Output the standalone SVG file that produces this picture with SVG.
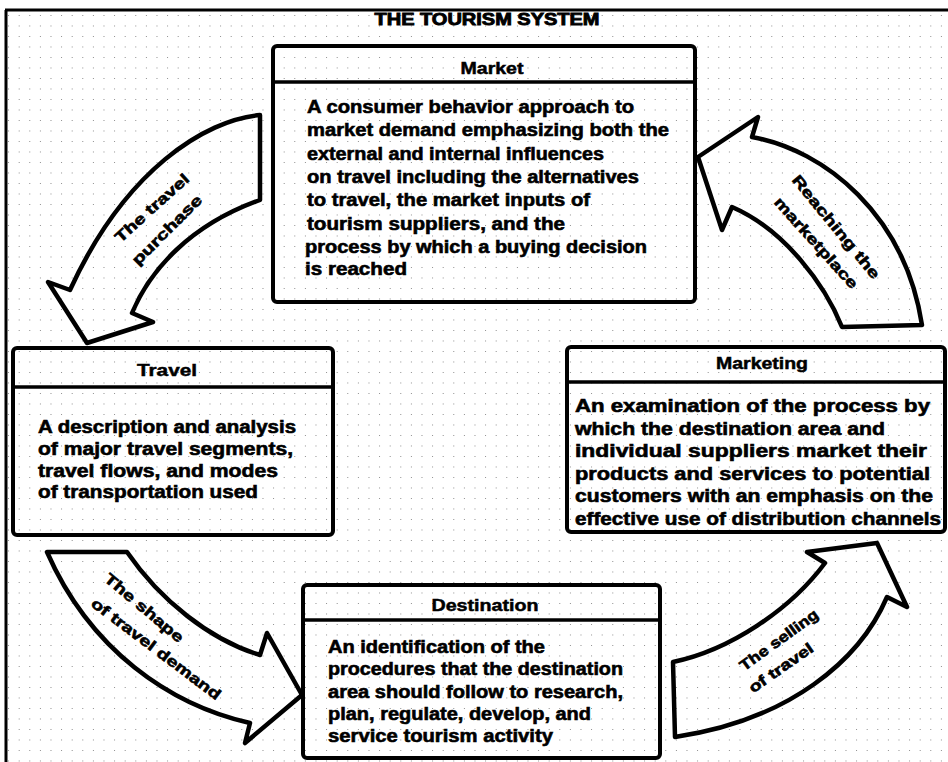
<svg xmlns="http://www.w3.org/2000/svg" width="948" height="762" viewBox="0 0 948 762">
<style>
.frame{fill:none;stroke:#000;stroke-width:3}
.box{fill:none;stroke:#000;stroke-width:4;stroke-linejoin:round}
.div{stroke:#000;stroke-width:3.5}
.arrow{fill:none;stroke:#000;stroke-width:4.5;stroke-linejoin:round}
.hd{font-family:"Liberation Sans",Arial,sans-serif;font-weight:bold;font-size:17px;fill:#000;stroke:#000;stroke-width:0.5;text-anchor:middle}
.bd{font-family:"Liberation Sans",Arial,sans-serif;font-weight:bold;font-size:18px;fill:#000;stroke:#000;stroke-width:0.6}
.lb{font-family:"Liberation Sans",Arial,sans-serif;font-weight:bold;font-size:15px;fill:#000;stroke:#000;stroke-width:0.6;text-anchor:middle}
.tt{font-family:"Liberation Sans",Arial,sans-serif;font-weight:900;font-size:17px;fill:#000;stroke:#000;stroke-width:0.9;text-anchor:middle}
</style>
<defs>
<pattern id="dots" patternUnits="userSpaceOnUse" x="8.1" y="4.5" width="10.6" height="10.5">
<rect x="-0.8" y="-0.8" width="1.6" height="1.6" fill="#555"/>
</pattern>
</defs>
<rect x="0" y="0" width="948" height="762" fill="#fff"/>
<rect x="7" y="11" width="941" height="751" fill="url(#dots)"/>
<path class="frame" d="M5,10 H948 M6,10 V762"/>

<g id="title">
<text class="tt" x="487" y="25" textLength="225" lengthAdjust="spacingAndGlyphs">THE TOURISM SYSTEM</text>
</g>

<g id="market">
<rect class="box" x="273" y="46" width="422" height="256" rx="4"/>
<line class="div" x1="273" y1="82" x2="695" y2="82"/>
<text class="hd" x="492" y="74" textLength="63" lengthAdjust="spacingAndGlyphs">Market</text>
<text class="bd" x="307" y="113" textLength="327" lengthAdjust="spacingAndGlyphs">A consumer behavior approach to</text>
<text class="bd" x="307" y="136" textLength="362" lengthAdjust="spacingAndGlyphs">market demand emphasizing both the</text>
<text class="bd" x="307" y="160" textLength="297" lengthAdjust="spacingAndGlyphs">external and internal influences</text>
<text class="bd" x="307" y="183" textLength="332" lengthAdjust="spacingAndGlyphs">on travel including the alternatives</text>
<text class="bd" x="307" y="206" textLength="283" lengthAdjust="spacingAndGlyphs">to travel, the market inputs of</text>
<text class="bd" x="307" y="230" textLength="258" lengthAdjust="spacingAndGlyphs">tourism suppliers, and the</text>
<text class="bd" x="305" y="253" textLength="342" lengthAdjust="spacingAndGlyphs">process by which a buying decision</text>
<text class="bd" x="305" y="275" textLength="102" lengthAdjust="spacingAndGlyphs">is reached</text>
</g>

<g id="travel">
<rect class="box" x="13" y="348" width="320" height="187" rx="4"/>
<line class="div" x1="13" y1="387" x2="333" y2="387"/>
<text class="hd" x="167" y="376" textLength="60" lengthAdjust="spacingAndGlyphs">Travel</text>
<text class="bd" x="38" y="433" textLength="258" lengthAdjust="spacingAndGlyphs">A description and analysis</text>
<text class="bd" x="38" y="455" textLength="255" lengthAdjust="spacingAndGlyphs">of major travel segments,</text>
<text class="bd" x="38" y="477" textLength="240" lengthAdjust="spacingAndGlyphs">travel flows, and modes</text>
<text class="bd" x="38" y="498" textLength="220" lengthAdjust="spacingAndGlyphs">of transportation used</text>
</g>

<g id="marketing">
<rect class="box" x="567" y="347" width="378" height="185" rx="4"/>
<line class="div" x1="567" y1="382" x2="945" y2="382"/>
<text class="hd" x="762" y="369" textLength="92" lengthAdjust="spacingAndGlyphs">Marketing</text>
<text class="bd" x="575" y="412" textLength="355" lengthAdjust="spacingAndGlyphs">An examination of the process by</text>
<text class="bd" x="575" y="435" textLength="310" lengthAdjust="spacingAndGlyphs">which the destination area and</text>
<text class="bd" x="575" y="457" textLength="352" lengthAdjust="spacingAndGlyphs">individual suppliers market their</text>
<text class="bd" x="575" y="480" textLength="355" lengthAdjust="spacingAndGlyphs">products and services to potential</text>
<text class="bd" x="575" y="502" textLength="358" lengthAdjust="spacingAndGlyphs">customers with an emphasis on the</text>
<text class="bd" x="575" y="525" textLength="366" lengthAdjust="spacingAndGlyphs">effective use of distribution channels</text>
</g>

<g id="destination">
<rect class="box" x="303" y="585" width="357" height="173" rx="4"/>
<line class="div" x1="303" y1="620" x2="660" y2="620"/>
<text class="hd" x="485" y="611" textLength="107" lengthAdjust="spacingAndGlyphs">Destination</text>
<text class="bd" x="328" y="653" textLength="217" lengthAdjust="spacingAndGlyphs">An identification of the</text>
<text class="bd" x="328" y="675" textLength="295" lengthAdjust="spacingAndGlyphs">procedures that the destination</text>
<text class="bd" x="328" y="698" textLength="295" lengthAdjust="spacingAndGlyphs">area should follow to research,</text>
<text class="bd" x="328" y="720" textLength="263" lengthAdjust="spacingAndGlyphs">plan, regulate, develop, and</text>
<text class="bd" x="328" y="742" textLength="225" lengthAdjust="spacingAndGlyphs">service tourism activity</text>
</g>

<g id="connectors">
<g id="arrow-travel-purchase">
<path class="arrow" d="M260,115 C205,120 125,170 70,290 L48,282 L87,343 L153,322 L132,313 C150,270 190,225 260,200 Z"/>
<text class="lb" transform="translate(152,208) rotate(-42)" dy="5" textLength="94" lengthAdjust="spacingAndGlyphs">The travel</text>
<text class="lb" transform="translate(167,230) rotate(-45)" dy="5" textLength="92" lengthAdjust="spacingAndGlyphs">purchase</text>
</g>
<g id="arrow-reaching-marketplace">
<path class="arrow" d="M698,157 L758,117 L752,137 C825,150 905,215 922,325 L842,327 C825,285 785,230 732,207 L722,230 Z"/>
<text class="lb" transform="translate(836,227) rotate(50.6)" dy="5" textLength="129" lengthAdjust="spacingAndGlyphs">Reaching the</text>
<text class="lb" transform="translate(816,243) rotate(48)" dy="5" textLength="117" lengthAdjust="spacingAndGlyphs">marketplace</text>
</g>
<g id="arrow-shape-demand">
<path class="arrow" d="M47,552 L127,552 C160,600 210,640 260,655 L267,633 L302,695 L245,743 L250,723 C170,705 90,650 47,552 Z"/>
<text class="lb" transform="translate(144,608) rotate(40)" dy="5" textLength="98" lengthAdjust="spacingAndGlyphs">The shape</text>
<text class="lb" transform="translate(156,649) rotate(37)" dy="5" textLength="158" lengthAdjust="spacingAndGlyphs">of travel demand</text>
</g>
<g id="arrow-selling-travel">
<path class="arrow" d="M673,662 C730,650 790,610 825,563 L807,552 L877,543 L907,607 L887,597 C860,660 790,720 675,737 Z"/>
<text class="lb" transform="translate(779,640) rotate(-36)" dy="5" textLength="93" lengthAdjust="spacingAndGlyphs">The selling</text>
<text class="lb" transform="translate(781,668) rotate(-35)" dy="5" textLength="75" lengthAdjust="spacingAndGlyphs">of travel</text>
</g>
</g>
</svg>
